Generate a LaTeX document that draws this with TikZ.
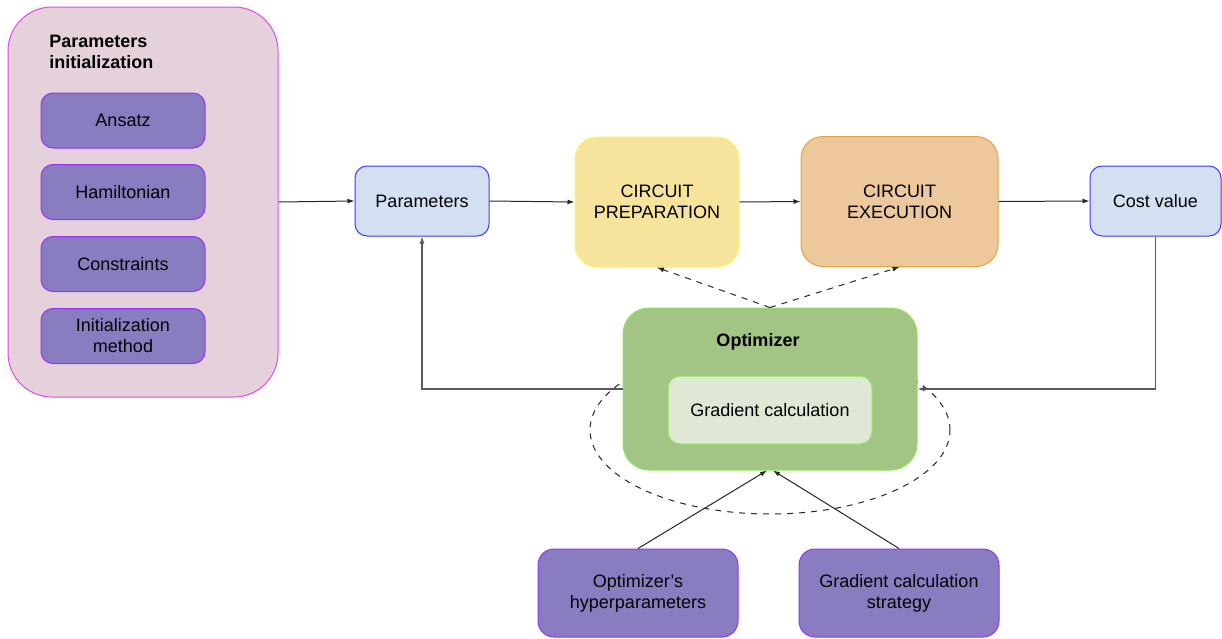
\documentclass[tikz,border=0pt]{standalone}
\usepackage{fontspec}
\setmainfont{Liberation Sans}
\usepackage{tikz}
\usetikzlibrary{arrows.meta}

\definecolor{pinkfill}{RGB}{228,209,220}
\definecolor{pinkline}{RGB}{226,72,240}
\definecolor{violetfill}{RGB}{138,124,192}
\definecolor{violetline}{RGB}{150,50,250}
\definecolor{bluefill}{RGB}{212,224,242}
\definecolor{blueline}{RGB}{60,60,255}
\definecolor{yellowfill}{RGB}{247,228,156}
\definecolor{yellowline}{RGB}{250,245,100}
\definecolor{orangefill}{RGB}{236,200,156}
\definecolor{orangeline}{RGB}{232,162,64}
\definecolor{greenfill}{RGB}{162,196,132}
\definecolor{greenline}{RGB}{140,230,90}
\definecolor{palegreen}{RGB}{223,232,213}

\begin{document}
\begin{tikzpicture}[x=0.5pt,y=-0.5pt,
    every node/.style={font=\fontsize{9}{10.5}\selectfont,align=center,inner sep=0pt}]
  \tikzstyle{BoxStyle}=[rectangle,line width=0.5pt]
  \tikzstyle{VioletBox}=[BoxStyle,fill=violetfill,draw=violetline,rounded corners=6pt,
                         minimum width=82pt,minimum height=27.5pt]
  \tikzstyle{BlueBox}=[BoxStyle,fill=bluefill,draw=blueline,rounded corners=6pt,
                       minimum height=35pt]
  \tikzstyle{CircuitBox}=[BoxStyle,rounded corners=11pt,minimum height=65pt]
  \tikzstyle{Flow}=[-{Latex[length=3.5pt,width=2.5pt]},line width=0.5pt,black!85]
  \tikzstyle{Back}=[-{Latex[length=3.5pt,width=2.5pt]},line width=0.6pt,black!65]
  \tikzstyle{Hint}=[-{Latex[length=3.5pt,width=2.5pt]},line width=0.5pt,dashed,black!85]

  \useasboundingbox (0,0) rectangle (1222,638);

  % parameters initialization block
  \node[BoxStyle,fill=pinkfill,draw=pinkline,rounded corners=22pt,
        minimum width=135pt,minimum height=195pt] (init) at (143,202) {};
  \node[anchor=west,align=left,font=\fontsize{9}{10.5}\selectfont\bfseries]
        (inittitle) at (49,52) {Parameters\\initialization};
  \node[VioletBox] (ansatz) at (123,120.5) {Ansatz};
  \node[VioletBox] (hamilton) at (123,192) {Hamiltonian};
  \node[VioletBox] (constr) at (123,264) {Constraints};
  \node[VioletBox] (initmethod) at (123,336) {Initialization\\method};

  % main loop
  \node[BlueBox,minimum width=67pt] (params) at (422,201) {Parameters};
  \node[CircuitBox,fill=yellowfill,draw=yellowline,minimum width=82pt]
        (prep) at (657,202) {CIRCUIT\\PREPARATION};
  \node[CircuitBox,fill=orangefill,draw=orangeline,minimum width=98.5pt]
        (exec) at (899.5,201.5) {CIRCUIT\\EXECUTION};
  \node[BlueBox,minimum width=65.5pt] (cost) at (1155.5,201) {Cost value};

  % optimizer
  \draw[dashed,line width=0.5pt,black!85] (770,430) ellipse [x radius=90pt,y radius=42pt];
  \node[BoxStyle,fill=greenfill,draw=greenline,rounded corners=13pt,
        minimum width=147pt,minimum height=81pt] (optim) at (770,389) {};
  \node[font=\fontsize{9}{10.5}\selectfont\bfseries] (optlabel) at (758,342) {Optimizer};
  \node[BoxStyle,fill=palegreen,draw=greenline,rounded corners=6pt,
        minimum width=102pt,minimum height=34pt] (gradcalc) at (770,410) {Gradient calculation};

  \node[VioletBox,rounded corners=8pt,minimum width=100pt,minimum height=44pt]
        (hyper) at (638,593) {Optimizer’s\\hyperparameters};
  \node[VioletBox,rounded corners=8pt,minimum width=100pt,minimum height=44pt]
        (strategy) at (899,593) {Gradient calculation\\strategy};

  \draw[Flow] (init.east) -- (params.west);
  \draw[Flow] (params.east) -- (prep.west);
  \draw[Flow] (prep.east) -- (exec.west);
  \draw[Flow] (exec.east) -- (cost.west);
  \draw[Hint] (optim.north) -- (prep.south);
  \draw[Hint] (optim.north) -- (exec.south);
  \draw[Back] (optim.west) -| (params.south);
  \draw[Back] (cost.south) |- (optim.east);
  \draw[Flow] (hyper.north) -- ([xshift=-1.5pt]optim.south);
  \draw[Flow] (strategy.north) -- ([xshift=1.5pt]optim.south);
\end{tikzpicture}
\end{document}
